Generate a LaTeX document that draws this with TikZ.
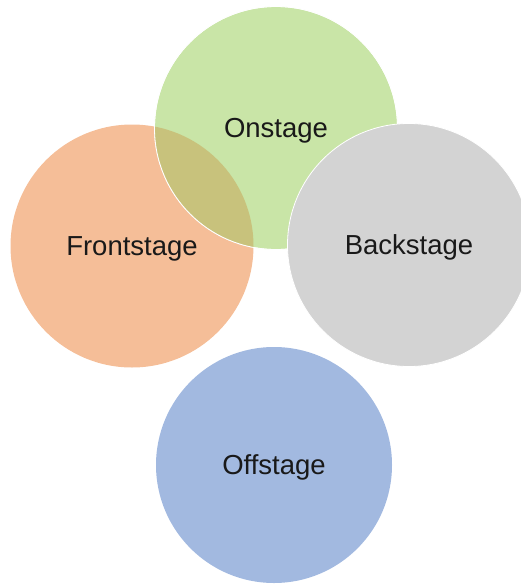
\documentclass[tikz,border=0pt]{standalone}
\usepackage{fontspec}
\setmainfont{Liberation Sans}

\definecolor{frontOrange}{HTML}{F5BE98}
\definecolor{onGreen}{HTML}{C9E5A7}
\definecolor{lensOlive}{HTML}{C8C27C}
\definecolor{backGray}{HTML}{D3D3D3}
\definecolor{offBlue}{HTML}{A2B9E0}

\begin{document}
\begin{tikzpicture}[x=1pt,y=-1pt,
	stage/.style={circle,minimum size=243pt,inner sep=0pt,text=black!90,
		text depth=0pt,font=\fontsize{27.5}{33}\selectfont},
	rim/.style={draw=white,line width=0.8pt}]
	\useasboundingbox (0,0) rectangle (520,584);

	\node[stage,fill=frontOrange]   (front) at (132,246) {Frontstage};
	\node[stage,fill=onGreen,rim]   (on)    at (276,128) {Onstage};

	% overlap of front and on
	\begin{scope}
		\clip (front.center) circle (121.5pt);
		\fill[lensOlive] (on.center) circle (121.5pt);
	\end{scope}
	\draw[rim] (on.center) circle (121.5pt);

	\node[stage,fill=backGray,rim]  (back)  at (409,245) {Backstage};
	\node[stage,fill=offBlue,minimum size=236pt] (off) at (274,465) {Offstage};
\end{tikzpicture}
\end{document}
